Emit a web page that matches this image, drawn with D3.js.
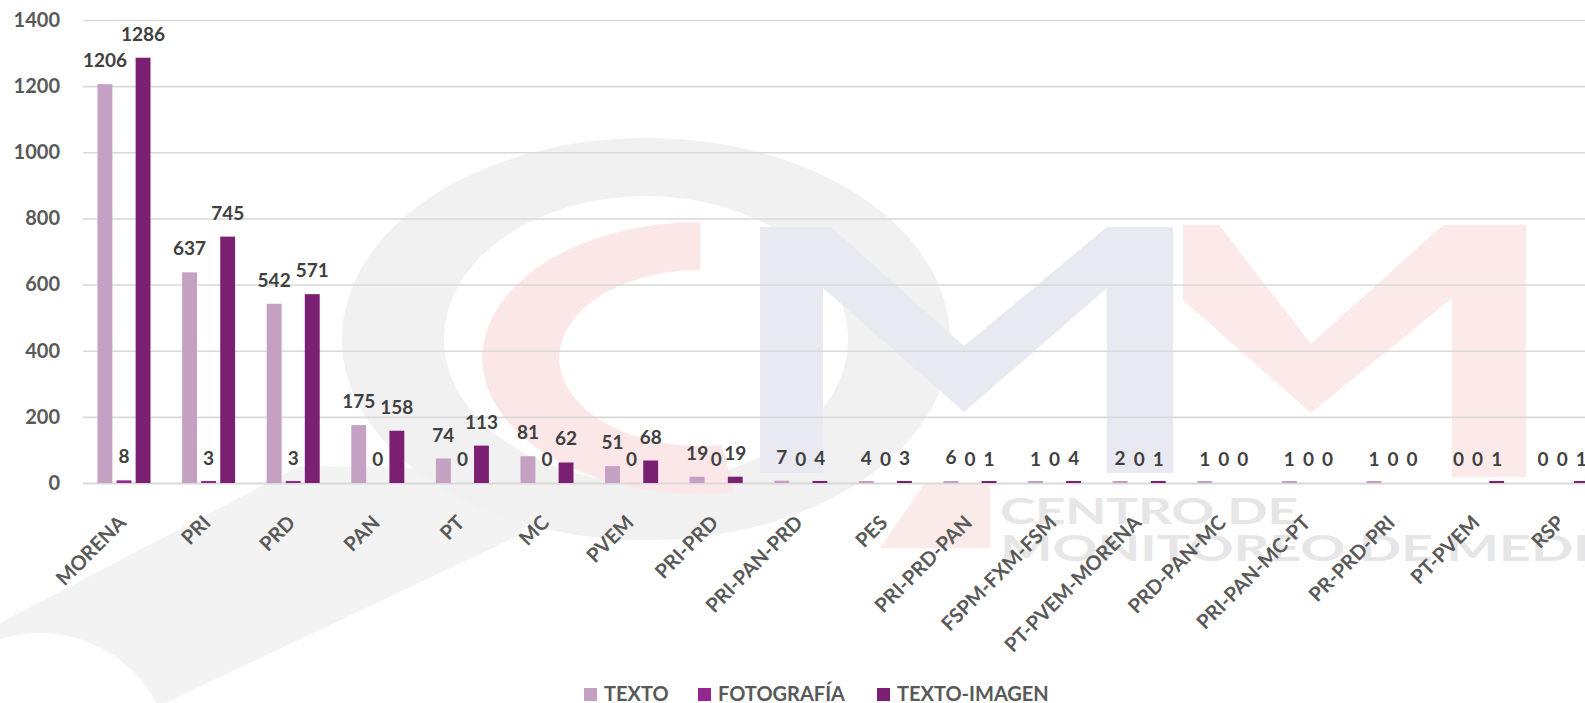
<!DOCTYPE html>
<html lang="es">

<head>
    <meta charset="UTF-8">
    <script src="https://d3js.org/d3.v7.min.js"></script>
    <title>Menciones por partido</title>
    <style>
        body { margin: 0; background: #fff; }
        text { font-family: Lato, "Open Sans", sans-serif; font-weight: 700; }
    </style>
</head>

<body>
    <svg width="1585" height="703" id="mainsvg"></svg>
    <script>
        const categories = ['MORENA', 'PRI', 'PRD', 'PAN', 'PT', 'MC', 'PVEM', 'PRI-PRD', 'PRI-PAN-PRD', 'PES',
            'PRI-PRD-PAN', 'FSPM-FXM-FSM', 'PT-PVEM-MORENA', 'PRD-PAN-MC', 'PRI-PAN-MC-PT', 'PR-PRD-PRI', 'PT-PVEM', 'RSP'];
        const texto = [1206, 637, 542, 175, 74, 81, 51, 19, 7, 4, 6, 1, 2, 1, 1, 1, 0, 0];
        const fotografia = [8, 3, 3, 0, 0, 0, 0, 0, 0, 0, 0, 0, 0, 0, 0, 0, 0, 0];
        const textoImagen = [1286, 745, 571, 158, 113, 62, 68, 19, 4, 3, 1, 4, 1, 0, 0, 0, 1, 1];
        const seriesNames = ['TEXTO', 'FOTOGRAFÍA', 'TEXTO-IMAGEN'];
        const yTicks = [0, 200, 400, 600, 800, 1000, 1200, 1400];

        const seriesValues = [texto, fotografia, textoImagen];
        const colors = ['#c4a0c3', '#93278f', '#7b1f73'];

        const svg = d3.select('#mainsvg');
        const width = +svg.attr('width');

        // marca de agua (logo CMM) muy tenue al fondo
        const wm = svg.append('g').attr('class', 'watermark');
        wm.append('polygon')
            .attr('points', '0,623 300,466 560,470 520,535 165,703 0,703')
            .attr('fill', '#f3f3f3');
        wm.append('circle')
            .attr('cx', 40).attr('cy', 765).attr('r', 132)
            .attr('fill', '#fff');
        // anillo gris
        wm.append('path')
            .attr('d', 'M342,339 a304,201 0 1,0 608,0 a304,201 0 1,0 -608,0 Z ' +
                'M444,339 a202,143 0 1,0 404,0 a202,143 0 1,0 -404,0 Z')
            .attr('fill', '#f1f1f1')
            .attr('fill-rule', 'evenodd');
        // C roja
        const arcC = d3.arc().innerRadius(88).outerRadius(136)
            .startAngle(0).endAngle(-Math.PI * 1.05);
        wm.append('path')
            .attr('d', arcC())
            .attr('transform', 'translate(700,358) scale(1.6,1)')
            .attr('fill', '#fbe7e7');
        wm.append('polygon')
            .attr('points', '925,483 990,483 990,548 880,548')
            .attr('fill', '#fbeaea');
        // M lavanda y M rosa
        wm.append('polygon')
            .attr('points', '760,227 831,227 964,346 1107,227 1173,227 1173,473 1107,473 1107,288 964,412 823,288 823,473 760,473')
            .attr('fill', '#e9e9f2');
        wm.append('polygon')
            .attr('points', '1183,225 1219,225 1311,344 1443,225 1526,225 1526,477 1452,477 1452,298 1311,413 1183,300')
            .attr('fill', '#fce9e9');
        wm.append('text').text('CENTRO DE')
            .attr('x', 1000).attr('y', 524).attr('textLength', 298).attr('lengthAdjust', 'spacingAndGlyphs')
            .attr('font-family', '"DejaVu Sans"').attr('font-size', 36).attr('fill', '#e6e6e6');
        wm.append('text').text('MONITOREO DE MEDIOS')
            .attr('x', 1000).attr('y', 561).attr('textLength', 665).attr('lengthAdjust', 'spacingAndGlyphs')
            .attr('font-family', '"DejaVu Sans"').attr('font-size', 36).attr('fill', '#e6e6e6');

        // escalas
        const xScale = d3.scaleBand()
            .domain(categories)
            .range([82, 82 + 84.6 * categories.length]);

        const xInner = d3.scaleBand()
            .domain(seriesNames)
            .range([15.5, 68.5])
            .paddingInner(0.22);

        const yScale = d3.scaleLinear()
            .domain([0, 1400])
            .range([483, 20]);

        // cuadrícula y etiquetas del eje y
        const yAxis = d3.axisLeft(yScale)
            .tickValues(yTicks)
            .tickFormat(d3.format('d'))
            .tickSize(-(width - 83))
            .tickPadding(23);
        const yg = svg.append('g').attr('transform', 'translate(83,0)').call(yAxis);
        yg.select('.domain').remove();
        yg.selectAll('.tick line').attr('stroke', '#d9d9d9').attr('stroke-width', d => d === 0 ? 2.2 : 1.6);
        yg.selectAll('.tick text')
            .attr('font-size', 20)
            .attr('fill', '#595959')
            .attr('font-family', 'Lato, sans-serif')
            .attr('font-weight', 700);

        // barras
        const groups = svg.selectAll('.grupo').data(categories).enter().append('g')
            .attr('class', 'grupo')
            .attr('transform', d => `translate(${xScale(d)},0)`);

        const rows = (d, i) => seriesNames.map((s, k) => ({ serie: s, k: k, value: seriesValues[k][i] }));

        groups.selectAll('rect').data(rows).enter().append('rect')
            .attr('x', d => xInner(d.serie))
            .attr('width', xInner.bandwidth())
            .attr('y', d => d.value > 0 ? Math.min(yScale(d.value), yScale(0) - 2) : yScale(0))
            .attr('height', d => d.value > 0 ? Math.max(yScale(0) - yScale(d.value), 2) : 0)
            .attr('fill', d => colors[d.k]);

        groups.selectAll('.valor').data(rows).enter().append('text')
            .attr('class', 'valor')
            .text(d => d.value)
            .attr('x', d => xInner(d.serie) + xInner.bandwidth() / 2)
            .attr('y', d => yScale(d.value) - 17)
            .attr('text-anchor', 'middle')
            .attr('font-size', 19)
            .attr('fill', '#404040');

        // etiquetas de categoría
        svg.selectAll('.cat').data(categories).enter().append('text')
            .attr('class', 'cat')
            .text(d => d)
            .attr('text-anchor', 'end')
            .attr('font-size', 20)
            .attr('fill', '#595959')
            .attr('transform', d => `translate(${xScale(d) + xScale.bandwidth() / 2 + 3}, 524) rotate(-45)`);

        // leyenda
        const legendX = [584, 698, 877];
        const legend = svg.selectAll('.leg').data(seriesNames).enter().append('g')
            .attr('class', 'leg')
            .attr('transform', (d, i) => `translate(${legendX[i]}, 688)`);
        legend.append('rect')
            .attr('width', 13).attr('height', 13)
            .attr('fill', (d, i) => colors[i]);
        legend.append('text')
            .text(d => d)
            .attr('x', 20).attr('y', 13)
            .attr('font-size', 20)
            .attr('fill', '#595959');
    </script>
</body>

</html>
